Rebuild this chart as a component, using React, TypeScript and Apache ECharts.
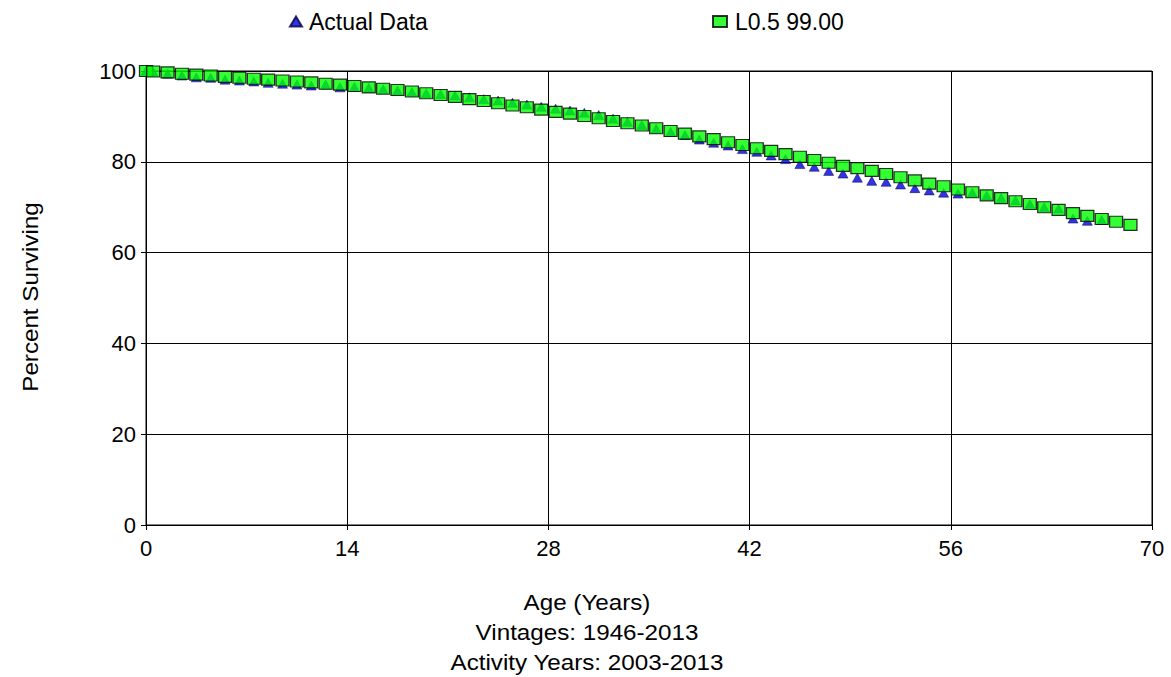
import React, { useEffect, useRef } from "react";
import * as echarts from "echarts";

const ages = [
  0, 0.5, 1.5, 2.5, 3.5, 4.5, 5.5, 6.5, 7.5, 8.5, 9.5, 10.5, 11.5, 12.5, 13.5, 14.5,
  15.5, 16.5, 17.5, 18.5, 19.5, 20.5, 21.5, 22.5, 23.5, 24.5, 25.5, 26.5, 27.5, 28.5,
  29.5, 30.5, 31.5, 32.5, 33.5, 34.5, 35.5, 36.5, 37.5, 38.5, 39.5, 40.5, 41.5, 42.5,
  43.5, 44.5, 45.5, 46.5, 47.5, 48.5, 49.5, 50.5, 51.5, 52.5, 53.5, 54.5, 55.5, 56.5,
  57.5, 58.5, 59.5, 60.5, 61.5, 62.5, 63.5, 64.5, 65.5, 66.5, 67.5, 68.5,
];

const fittedL05 = [
  100, 99.9, 99.7, 99.4, 99.2, 99.0, 98.7, 98.5, 98.3, 98.1, 97.9, 97.7, 97.5, 97.2, 97.0,
  96.7, 96.4, 96.1, 95.8, 95.5, 95.1, 94.7, 94.3, 93.8, 93.4, 92.9, 92.4, 92.0, 91.5, 91.0,
  90.6, 90.1, 89.6, 89.0, 88.5, 88.0, 87.4, 86.8, 86.2, 85.6, 85.0, 84.3, 83.7, 83.0, 82.4,
  81.7, 81.1, 80.4, 79.8, 79.1, 78.6, 78.0, 77.3, 76.6, 75.9, 75.2, 74.6, 73.9, 73.3, 72.6,
  72.0, 71.3, 70.7, 70.0, 69.4, 68.7, 68.1, 67.4, 66.8, 66.1,
];

const actualData = [
  100, 99.8, 99.4, 99.0, 98.6, 98.5, 98.1, 97.9, 97.7, 97.4, 97.2, 97.0, 96.8, 97.0, 96.4,
  96.5, 96.3, 96.0, 95.7, 95.4, 95.1, 94.9, 94.6, 94.2, 93.8, 93.5, 93.0, 92.6, 92.1, 91.7,
  91.3, 90.8, 90.3, 89.5, 88.8, 88.1, 87.3, 86.6, 85.9, 84.9, 84.2, 83.6, 82.8, 82.2, 81.4,
  80.6, 79.5, 78.9, 78.0, 77.4, 76.5, 75.8, 75.6, 75.0, 74.2, 73.7, 73.2, 73.0, 73.2, 72.6,
  72.0, 71.5, 70.7, 70.0, 69.7, 67.5, 67.0, 67.2,
];

const xTicks = { min: 0, max: 70, interval: 14 };
const yTicks = { min: 0, max: 100, interval: 20 };

const seriesNames = ["Actual Data", "L0.5 99.00"];
const xTitleLines = ["Age (Years)", "Vintages: 1946-2013", "Activity Years: 2003-2013"];
const yTitle = "Percent Surviving";

const FONT = "Liberation Sans";
const FS = 22;

export default function App() {
  const ref = useRef<HTMLDivElement>(null);
  useEffect(() => {
    if (!ref.current) return;
    const chart = echarts.init(ref.current, null, { renderer: "svg" });
    const actualPts = actualData.map((v, i) => [ages[i], v]);
    const fitPts = fittedL05.map((v, i) => [ages[i], v]);
    const textBase = { fontFamily: FONT, fontSize: FS, color: "#000" };
    chart.setOption({
      animation: false,
      backgroundColor: "#fff",
      grid: {
        left: 146,
        right: 19,
        top: 71,
        bottom: 152,
        show: true,
        borderColor: "#000",
        borderWidth: 1,
      },
      legend: [
        {
          data: [{ name: seriesNames[0], icon: "triangle" }],
          left: 284,
          top: 5,
          itemWidth: 12,
          itemHeight: 10,
          itemGap: 10,
          textStyle: { ...textBase, fontSize: 23, padding: [0, 0, 0, 2] },
        },
        {
          data: [{ name: seriesNames[1], icon: "rect" }],
          left: 707,
          top: 5,
          itemWidth: 14,
          itemHeight: 11,
          textStyle: { ...textBase, fontSize: 23, padding: [0, 0, 0, 3] },
        },
      ],
      xAxis: {
        type: "value",
        min: xTicks.min,
        max: xTicks.max,
        interval: xTicks.interval,
        axisLine: { show: true, lineStyle: { color: "#000", width: 1 } },
        axisTick: { show: true, length: 5, lineStyle: { color: "#000" } },
        axisLabel: { ...textBase, margin: 12 },
        splitLine: { show: true, lineStyle: { color: "#000", width: 1 } },
      },
      yAxis: {
        type: "value",
        min: yTicks.min,
        max: yTicks.max,
        interval: yTicks.interval,
        axisLine: { show: true, lineStyle: { color: "#000", width: 1 } },
        axisTick: { show: true, length: 5, lineStyle: { color: "#000" } },
        axisLabel: { ...textBase, margin: 10 },
        splitLine: { show: true, lineStyle: { color: "#000", width: 1 } },
      },
      graphic: [
        {
          type: "text",
          x: 30,
          y: 297,
          rotation: Math.PI / 2,
          scaleX: 1.1,
          style: { text: yTitle, font: `${FS}px '${FONT}'`, fill: "#000", textAlign: "center", textVerticalAlign: "middle" },
        },
        ...xTitleLines.map((t, i) => ({
          type: "text",
          x: 587,
          y: 602 + i * 30,
          scaleX: 1.1,
          style: { text: t, font: `${FS}px '${FONT}'`, fill: "#000", textAlign: "center", textVerticalAlign: "middle" },
        })),
      ],
      series: [
        {
          name: seriesNames[0],
          type: "scatter",
          data: actualPts,
          symbol: "triangle",
          symbolSize: [10, 9],
          itemStyle: { color: "#0000e0", borderColor: "#000040", borderWidth: 0.6 },
          z: 2,
        },
        {
          name: seriesNames[1],
          type: "scatter",
          data: fitPts,
          symbol: "rect",
          symbolSize: [13, 11],
          itemStyle: { color: "#00ff00", borderColor: "#000", borderWidth: 1.2 },
          z: 3,
        },
      ],
    });
    return () => chart.dispose();
  }, []);
  return (
    <div
      ref={ref}
      style={{ position: "fixed", left: 0, top: 0, width: 1171, height: 677, background: "#fff" }}
    />
  );
}
